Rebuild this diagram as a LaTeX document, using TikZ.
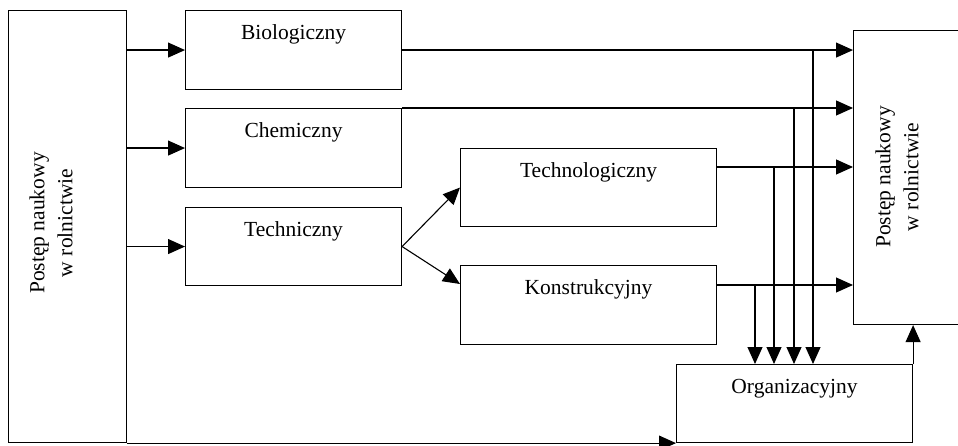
\documentclass[tikz,border=0pt]{standalone}
\usepackage{fontspec}
\setmainfont{Liberation Serif}
\usetikzlibrary{arrows.meta,calc}
\begin{document}
\begin{tikzpicture}[x=1pt,y=-1pt,
  every node/.style={font=\fontsize{21.5}{28}\selectfont},
  ln/.style={line width=1.1pt},
  arr/.style={ln,-{Triangle[length=17pt,width=15pt]}},
  box/.style 2 args={draw,ln,inner sep=0pt,anchor=north west,text width=#1,align=center,text height=28.5pt,text depth=#2},
  frame/.style 2 args={draw,ln,inner sep=0pt,anchor=north west,minimum width=#1,minimum height=#2}
]
\useasboundingbox (0,0) rectangle (958,446);
% boxes
\node[frame={118pt}{432pt}] (L) at (8,10) {};
\node[frame={120pt}{294pt}] (R) at (853,30) {};
\node[box={216pt}{50.5pt}] (B) at (185,10) {Biologiczny};
\node[box={216pt}{50.5pt}] (C) at (185,108) {Chemiczny};
\node[box={216pt}{49.5pt}] (T) at (185,207) {Techniczny};
\node[box={256pt}{49.5pt}] (Tg) at (460,148) {Technologiczny};
\node[box={256pt}{50.5pt}] (K) at (460,265) {Konstrukcyjny};
\node[box={236pt}{49.5pt}] (O) at (676,364) {Organizacyjny};
% rotated texts
\node[rotate=90,align=center] (Lt) at (51,223) {Postęp naukowy\\w rolnictwie};
\node[rotate=90,align=center] (Rt) at (897,177) {Postęp naukowy\\w rolnictwie};
% coordinates
\coordinate (tgo) at ($(Tg.north east)+(0,19)$);
\coordinate (ko) at ($(K.north east)+(0,20)$);
\coordinate (kin) at ($(K.north west)+(0,19)$);
% connectors from left box
\draw[arr] (L.east |- B.west) -- (B.west);
\draw[arr] (L.east |- C.west) -- (C.west);
\draw[arr] (L.east |- T.west) -- (T.west);
% fork
\draw[arr] (T.east) -- (Tg.west);
\draw[arr] (T.east) -- (kin);
% to right box
\draw[arr] (B.east) -- (B.east -| R.west);
\draw[arr] (C.north east) -- (C.north east -| R.west);
\draw[arr] (tgo) -- (tgo -| R.west);
\draw[arr] (ko) -- (ko -| R.west);
% down to Organizacyjny
\draw[arr] (755,0 |- ko) -- (755,0 |- O.north);
\draw[arr] (774,0 |- tgo) -- (774,0 |- O.north);
\draw[arr] (794,0 |- C.north east) -- (794,0 |- O.north);
\draw[arr] (813,0 |- B.east) -- (813,0 |- O.north);
% Organizacyjny to right box
\draw[arr] (O.north east) -- (O.north east |- R.south);
% bottom line
\draw[arr] (L.south east) -- (O.south west);
\end{tikzpicture}
\end{document}
